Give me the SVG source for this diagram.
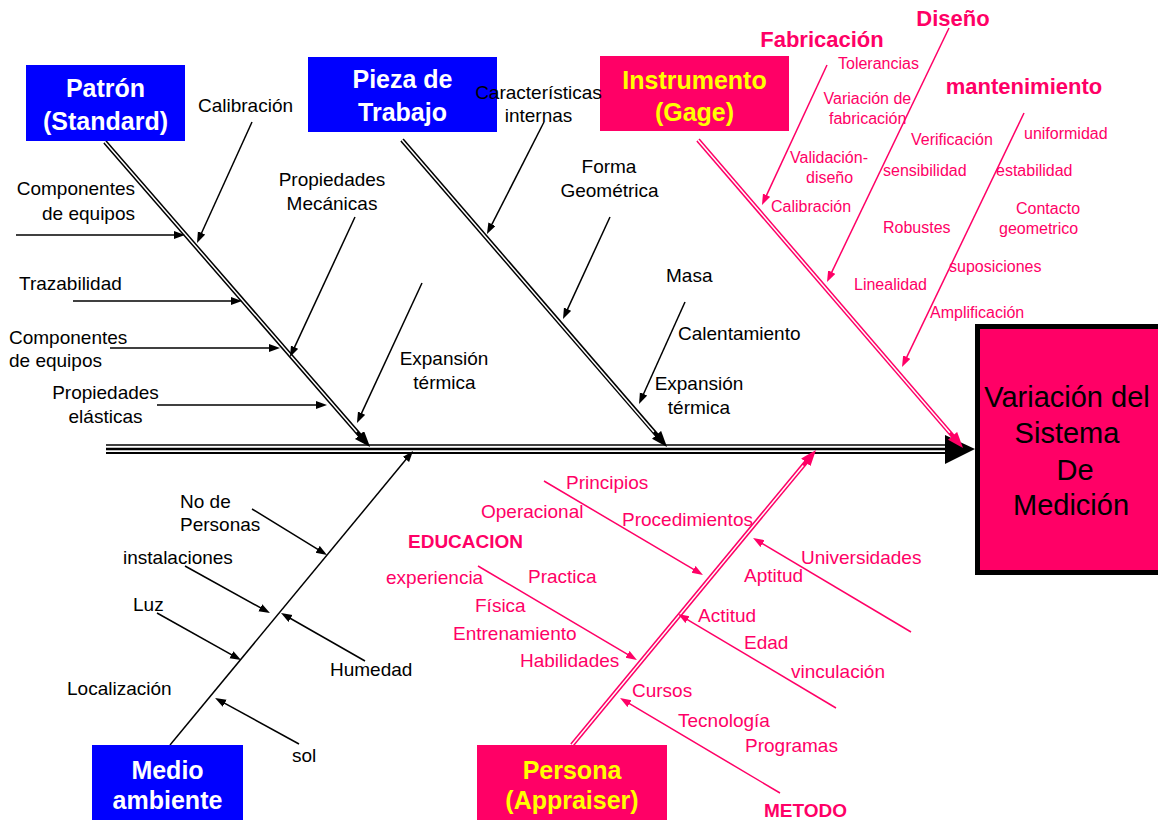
<svg xmlns="http://www.w3.org/2000/svg" width="1158" height="820" viewBox="0 0 1158 820">
<style>
.blk{font-family:"Liberation Sans",Arial,sans-serif;font-size:19px;fill:#000}
.pk{font-family:"Liberation Sans",Arial,sans-serif;font-size:19px;fill:#FF0066}
.pks{font-family:"Liberation Sans",Arial,sans-serif;font-size:16px;fill:#FF0066}
.pkb{font-family:"Liberation Sans",Arial,sans-serif;font-size:22px;font-weight:bold;fill:#FF0066}
.pkb2{font-family:"Liberation Sans",Arial,sans-serif;font-size:19px;font-weight:bold;fill:#FF0066}
.bxw{font-family:"Liberation Sans",Arial,sans-serif;font-size:25px;font-weight:bold;fill:#fff;text-anchor:middle}
.bxy{font-family:"Liberation Sans",Arial,sans-serif;font-size:25px;font-weight:bold;fill:#FFFF00;text-anchor:middle}
.eff{font-family:"Liberation Sans",Arial,sans-serif;font-size:29px;fill:#000;text-anchor:middle}
.mid{text-anchor:middle}
.end{text-anchor:end}
.ab{stroke:#000;stroke-width:1.5;fill:none;marker-end:url(#ak)}
.ap{stroke:#FF0066;stroke-width:1.5;fill:none;marker-end:url(#apk)}
.bk{stroke:#000;stroke-width:4.5;fill:none;marker-end:url(#bak)}
.bp{stroke:#FF0066;stroke-width:4.5;fill:none;marker-end:url(#bapk)}
.inner{stroke:#fff;stroke-width:1.5;fill:none}
</style>
<defs>
<marker id="ak" markerUnits="userSpaceOnUse" markerWidth="12" markerHeight="9" refX="5" refY="4" orient="auto"><path d="M0,0 L11,4 L0,8 z" fill="#000"/></marker>
<marker id="apk" markerUnits="userSpaceOnUse" markerWidth="12" markerHeight="9" refX="5" refY="4" orient="auto"><path d="M0,0 L11,4 L0,8 z" fill="#FF0066"/></marker>
<marker id="bak" markerUnits="userSpaceOnUse" markerWidth="17" markerHeight="13" refX="8" refY="6" orient="auto"><path d="M0,0 L16,6 L0,12 z" fill="#000"/></marker>
<marker id="bapk" markerUnits="userSpaceOnUse" markerWidth="17" markerHeight="13" refX="8" refY="6" orient="auto"><path d="M0,0 L16,6 L0,12 z" fill="#FF0066"/></marker>
</defs>
<rect width="1158" height="820" fill="#fff"/>

<g id="connectors">
  <!-- spine -->
  <line x1="106" y1="445" x2="946" y2="445" stroke="#000" stroke-width="1.5"/>
  <line x1="106" y1="449" x2="946" y2="449" stroke="#000" stroke-width="2.5"/>
  <line x1="106" y1="453" x2="946" y2="453" stroke="#000" stroke-width="2"/>
  <polygon points="945,435 975,449 945,464" fill="#000"/>
  <!-- main bones -->
  <line class="bk" x1="105" y1="142" x2="364.8" y2="441"/>
  <line class="inner" x1="105" y1="142" x2="356.9" y2="431.9"/>
  <line class="bk" x1="402" y1="140" x2="661.8" y2="440.9"/>
  <line class="inner" x1="402" y1="140" x2="653.9" y2="431.9"/>
  <line class="bp" x1="698" y1="140" x2="957.8" y2="441.9"/>
  <line class="inner" x1="698" y1="140" x2="949.9" y2="432.8"/>
  <line class="bp" x1="572" y1="745" x2="810.9" y2="456.2"/>
  <line class="inner" x1="572" y1="745" x2="803.3" y2="465.4"/>
  <line class="ab" x1="170" y1="745" x2="409.2" y2="455.6"/>
  <!-- Patrón sub-causes -->
  <line class="ab" x1="252" y1="122" x2="199.5" y2="237.5"/>
  <line class="ab" x1="16" y1="235" x2="179" y2="235"/>
  <line class="ab" x1="73" y1="301" x2="236" y2="301"/>
  <line class="ab" x1="110" y1="348" x2="274" y2="348"/>
  <line class="ab" x1="157" y1="405" x2="321" y2="405"/>
  <line class="ab" x1="355" y1="217" x2="292.5" y2="351.6"/>
  <line class="ab" x1="422" y1="283" x2="359.5" y2="417.6"/>
  <!-- Pieza sub-causes -->
  <line class="ab" x1="544" y1="122" x2="489.7" y2="228.7"/>
  <line class="ab" x1="610" y1="217" x2="565.5" y2="313.6"/>
  <line class="ab" x1="685" y1="302" x2="641.5" y2="398.5"/>
  <!-- Medio ambiente sub-causes -->
  <line class="ab" x1="252" y1="509" x2="321.9" y2="551.9"/>
  <line class="ab" x1="185" y1="566" x2="264.7" y2="610.1"/>
  <line class="ab" x1="157" y1="613" x2="235.8" y2="657.1"/>
  <line class="ab" x1="365" y1="661" x2="286.2" y2="616"/>
  <line class="ab" x1="299" y1="744" x2="220.3" y2="700.9"/>
  <!-- Instrumento sub-causes -->
  <line class="ap" x1="827" y1="65" x2="764.5" y2="199.6"/>
  <line class="ap" x1="949" y1="28" x2="829.6" y2="276.6"/>
  <line class="ap" x1="1024" y1="113" x2="904.6" y2="361.6"/>
  <!-- Persona sub-causes -->
  <line class="ap" x1="544" y1="481" x2="697.8" y2="571.9"/>
  <line class="ap" x1="911" y1="632" x2="758.2" y2="541.1"/>
  <line class="ap" x1="478" y1="566" x2="631.8" y2="656.9"/>
  <line class="ap" x1="836" y1="708" x2="683.2" y2="617.1"/>
  <line class="ap" x1="780" y1="793" x2="625.2" y2="701.1"/>
</g>

<g id="effect">
  <rect x="977.5" y="326.5" width="200" height="246" fill="#FF0066" stroke="#000" stroke-width="5"/>
  <text class="eff" x="1067" y="407">Variación del</text>
  <text class="eff" x="1067" y="443">Sistema</text>
  <text class="eff" x="1075" y="480">De</text>
  <text class="eff" x="1071" y="515">Medición</text>
</g>

<g id="patron">
  <rect x="26" y="65" width="159" height="76" fill="#0000FF"/>
  <text class="bxw" x="105.5" y="97">Patrón</text>
  <text class="bxw" x="105.5" y="130">(Standard)</text>
</g>
<g id="pieza">
  <rect x="308" y="57" width="189" height="75" fill="#0000FF"/>
  <text class="bxw" x="402.5" y="88">Pieza de</text>
  <text class="bxw" x="402.5" y="121">Trabajo</text>
</g>
<g id="instrumento">
  <rect x="600" y="56" width="189" height="75" fill="#FF0066"/>
  <text class="bxy" x="694.5" y="89">Instrumento</text>
  <text class="bxy" x="694.5" y="121">(Gage)</text>
</g>
<g id="medio">
  <rect x="92" y="745" width="151" height="75" fill="#0000FF"/>
  <text class="bxw" x="167.5" y="779">Medio</text>
  <text class="bxw" x="167.5" y="809">ambiente</text>
</g>
<g id="persona">
  <rect x="477" y="745" width="190" height="75" fill="#FF0066"/>
  <text class="bxy" x="572" y="779">Persona</text>
  <text class="bxy" x="572" y="809">(Appraiser)</text>
</g>

<g id="labels-patron">
  <text class="blk" x="198" y="111.5">Calibración</text>
  <text class="blk end" x="135" y="194.5">Componentes</text>
  <text class="blk end" x="135" y="219.5">de equipos</text>
  <text class="blk" x="19" y="289.5">Trazabilidad</text>
  <text class="blk" x="9" y="343.5">Componentes</text>
  <text class="blk" x="9" y="366.5">de equipos</text>
  <text class="blk mid" x="105.5" y="398.5">Propiedades</text>
  <text class="blk mid" x="105.5" y="422.5">elásticas</text>
  <text class="blk mid" x="332" y="185.5">Propiedades</text>
  <text class="blk mid" x="332" y="209.5">Mecánicas</text>
  <text class="blk mid" x="444" y="364.5">Expansión</text>
  <text class="blk mid" x="444.5" y="388.5">térmica</text>
</g>
<g id="labels-pieza">
  <text class="blk mid" x="538.5" y="98.5">Características</text>
  <text class="blk mid" x="538.5" y="121.5">internas</text>
  <text class="blk mid" x="609" y="172.5">Forma</text>
  <text class="blk mid" x="609.5" y="196.5">Geométrica</text>
  <text class="blk" x="666" y="281.5">Masa</text>
  <text class="blk" x="678" y="339.5">Calentamiento</text>
  <text class="blk mid" x="699" y="389.5">Expansión</text>
  <text class="blk mid" x="699" y="413.5">térmica</text>
</g>
<g id="labels-medio">
  <text class="blk" x="180" y="507.5">No de</text>
  <text class="blk" x="180" y="530.5">Personas</text>
  <text class="blk" x="123" y="563.5">instalaciones</text>
  <text class="blk" x="133" y="610.5">Luz</text>
  <text class="blk" x="67" y="694.5">Localización</text>
  <text class="blk" x="330" y="675.5">Humedad</text>
  <text class="blk" x="292" y="761.5">sol</text>
</g>
<g id="labels-instrumento">
  <text class="pkb mid" x="822" y="47">Fabricación</text>
  <text class="pkb mid" x="953" y="26">Diseño</text>
  <text class="pkb mid" x="1024" y="94">mantenimiento</text>
  <text class="pks" x="838" y="68.5">Tolerancias</text>
  <text class="pks" x="823.5" y="103.5">Variación de</text>
  <text class="pks" x="829" y="123.5">fabricación</text>
  <text class="pks" x="790" y="162.5">Validación-</text>
  <text class="pks" x="806" y="182.5">diseño</text>
  <text class="pks" x="771" y="211.5">Calibración</text>
  <text class="pks" x="911" y="144.5">Verificación</text>
  <text class="pks" x="883" y="175.5">sensibilidad</text>
  <text class="pks" x="1024" y="138.5">uniformidad</text>
  <text class="pks" x="996" y="175.5">estabilidad</text>
  <text class="pks" x="1016" y="213.5">Contacto</text>
  <text class="pks" x="999" y="233.5">geometrico</text>
  <text class="pks" x="883" y="232.5">Robustes</text>
  <text class="pks" x="949" y="271.5">suposiciones</text>
  <text class="pks" x="854" y="289.5">Linealidad</text>
  <text class="pks" x="930" y="317.5">Amplificación</text>
</g>
<g id="labels-persona">
  <text class="pk" x="566" y="488.5">Principios</text>
  <text class="pk" x="481" y="517.5">Operacional</text>
  <text class="pk" x="622" y="525.5">Procedimientos</text>
  <text class="pkb2" x="408" y="548">EDUCACION</text>
  <text class="pk" x="801" y="563.5">Universidades</text>
  <text class="pk" x="744" y="581.5">Aptitud</text>
  <text class="pk" x="528" y="582.5">Practica</text>
  <text class="pk" x="386" y="583.5">experiencia</text>
  <text class="pk" x="475" y="611.5">Física</text>
  <text class="pk" x="698" y="621.5">Actitud</text>
  <text class="pk" x="453" y="639.5">Entrenamiento</text>
  <text class="pk" x="744" y="648.5">Edad</text>
  <text class="pk" x="520" y="666.5">Habilidades</text>
  <text class="pk" x="791" y="677.5">vinculación</text>
  <text class="pk" x="632" y="696.5">Cursos</text>
  <text class="pk" x="678" y="726.5">Tecnología</text>
  <text class="pk" x="745" y="751.5">Programas</text>
  <text class="pkb2" x="764" y="817">METODO</text>
</g>
</svg>
